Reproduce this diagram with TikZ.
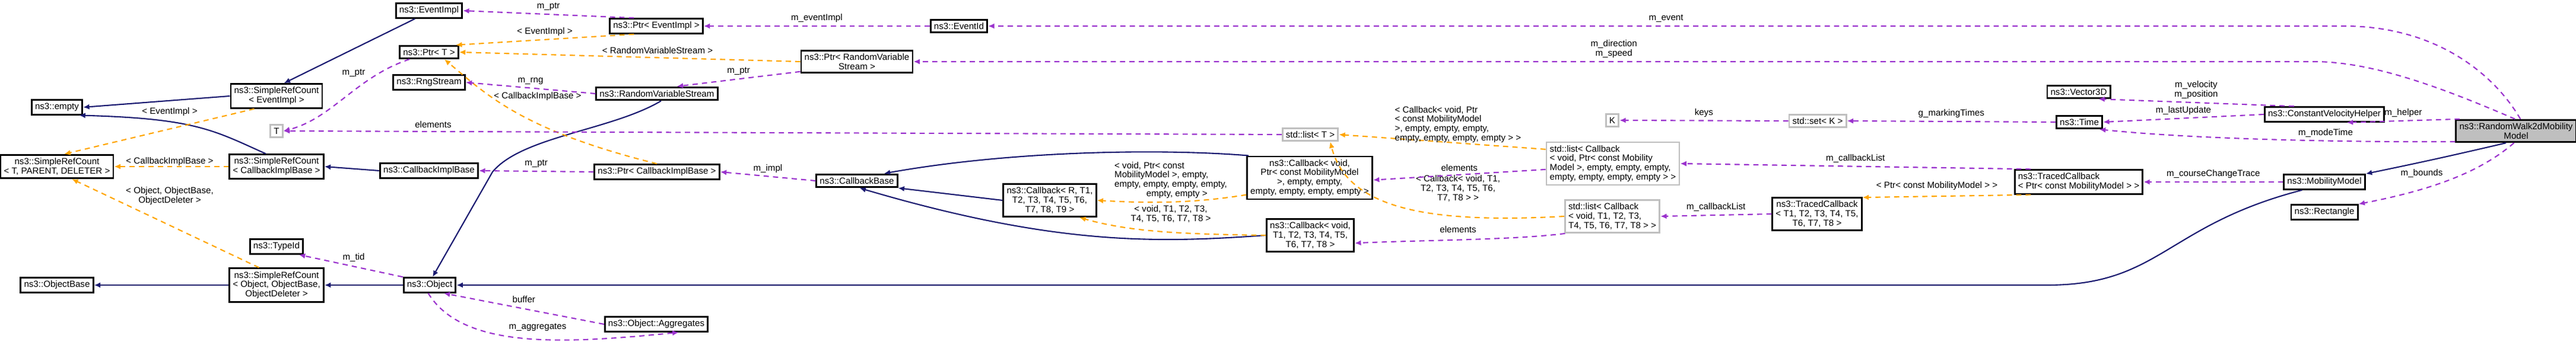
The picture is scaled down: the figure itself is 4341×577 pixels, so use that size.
\documentclass[tikz,border=0pt]{standalone}
\usepackage{fontspec}
\setmainfont{Liberation Sans}
\usetikzlibrary{arrows.meta}
\definecolor{inhblue}{HTML}{191970}
\definecolor{usepurple}{HTML}{9A32CD}
\definecolor{tplorange}{HTML}{FFA500}
\tikzset{
    cls/.style = {draw=black, thick, fill=white, font=\fontsize{4.3}{4.5}\selectfont,
        inner xsep=1.6pt, inner ysep=1.5pt, align=center},
    ext/.style = {cls, draw=black!25},
    hl/.style = {cls, fill=black!25},
    lbl/.style = {font=\fontsize{4.3}{4.5}\selectfont, align=center, inner sep=0.5pt},
    inh/.style = {-{Latex[length=3pt,width=2.6pt]}, draw=inhblue, semithick},
    tpl/.style = {-{Latex[length=3pt,width=2.6pt]}, draw=tplorange, semithick, dash pattern=on 2.5pt off 2pt},
    usg/.style = {-{Latex[length=3pt,width=2.6pt]}, draw=usepurple, semithick, dash pattern=on 2.5pt off 2pt}
}

\begin{document}
\begin{tikzpicture}[x=0.01cm, y=-0.01cm]
    \useasboundingbox (0,0) rectangle (4341,577);

    % column 1
    \node[cls] (empty) at (96,181) {ns3::empty};
    \node[cls] (srcTPD) at (96,281) {ns3::SimpleRefCount\\< T, PARENT, DELETER >};
    \node[cls] (objBase) at (96,481) {ns3::ObjectBase};

    % column 2
    \node[cls] (srcEvt) at (466,162) {ns3::SimpleRefCount\\< EventImpl >};
    \node[ext] (tT) at (466,221) {T};
    \node[cls] (srcCib) at (466,281) {ns3::SimpleRefCount\\< CallbackImplBase >};
    \node[cls] (typeId) at (466,416) {ns3::TypeId};
    \node[cls] (srcObj) at (466,481) {ns3::SimpleRefCount\\< Object, ObjectBase,\\ObjectDeleter >};

    % column 3
    \node[cls] (evtImpl) at (723,18) {ns3::EventImpl};
    \node[cls] (ptrT) at (723,88) {ns3::Ptr< T >};
    \node[cls] (rng) at (723,139) {ns3::RngStream};
    \node[cls] (cib) at (723,288) {ns3::CallbackImplBase};
    \node[cls] (object) at (724,481) {ns3::Object};

    % column 4
    \node[cls] (ptrEvt) at (1106,44) {ns3::Ptr< EventImpl >};
    \node[cls] (rvs) at (1107,158) {ns3::RandomVariableStream};
    \node[cls] (ptrCib) at (1107,290) {ns3::Ptr< CallbackImplBase >};
    \node[cls] (aggr) at (1106,547) {ns3::Object::Aggregates};

    % column 5 and 6
    \node[cls] (eventId) at (1616,44) {ns3::EventId};
    \node[cls] (ptrRvs) at (1444,104) {ns3::Ptr< RandomVariable\\Stream >};
    \node[cls] (cbBase) at (1444,305) {ns3::CallbackBase};
    \node[cls] (cbR) at (1769,338) {ns3::Callback< R, T1,\\T2, T3, T4, T5, T6,\\T7, T8, T9 >};

    % column 7
    \node[ext] (listT) at (2208,227) {std::list< T >};
    \node[cls] (cbPtr) at (2207,300) {ns3::Callback< void,\\Ptr< const MobilityModel\\>, empty, empty,\\empty, empty, empty, empty >};
    \node[cls] (cbVoid) at (2208,397) {ns3::Callback< void,\\T1, T2, T3, T4, T5,\\T6, T7, T8 >};

    % column 8 and 9
    \node[ext] (kK) at (2717,203) {K};
    \node[ext, align=left] (listPtr) at (2718,276) {std::list< Callback\\< void, Ptr< const Mobility\\Model >, empty, empty, empty,\\ empty, empty, empty, empty > >};
    \node[ext, align=left] (listVoid) at (2717,365) {std::list< Callback\\< void, T1, T2, T3,\\ T4, T5, T6, T7, T8 > >};
    \node[ext] (setK) at (3063,204) {std::set< K >};
    \node[cls] (tcT) at (3062,361) {ns3::TracedCallback\\< T1, T2, T3, T4, T5,\\T6, T7, T8 >};

    % column 10 to 12
    \node[cls] (vec) at (3503,155) {ns3::Vector3D};
    \node[cls] (time) at (3504,206) {ns3::Time};
    \node[cls, align=left] (tcPtr) at (3503,307) {ns3::TracedCallback\\< Ptr< const MobilityModel > >};
    \node[cls] (cvh) at (3917,193) {ns3::ConstantVelocityHelper};
    \node[cls] (mob) at (3917,307) {ns3::MobilityModel};
    \node[cls] (rect) at (3917,358) {ns3::Rectangle};
    \node[hl] (rw) at (4240,221) {ns3::RandomWalk2dMobility\\Model};

    % inheritance
    \draw[inh] (evtImpl.-150) -- (srcEvt.60);
    \draw[inh] (srcEvt.west) -- (empty.east);
    \draw[inh] (srcCib.130) .. controls (360,220) and (330,200) .. (empty.-20);
    \draw[inh] (cib.west) -- (srcCib.east);
    \draw[inh] (object.west) -- (srcObj.east);
    \draw[inh] (srcObj.west) -- (objBase.east);
    \draw[inh] (rvs.-60) .. controls (1030,220) and (880,230) .. (830,290) -- (object.70);
    \draw[inh] (mob.200) .. controls (3650,380) and (3640,481) .. (3450,481) -- (object.east);
    \draw[inh] (rw.-130) .. controls (4100,270) and (4050,280) .. (mob.north east);
    \draw[inh] (cbR.west) -- (cbBase.-10);
    \draw[inh] (cbPtr.160) .. controls (1950,250) and (1700,255) .. (cbBase.15);
    \draw[inh] (cbVoid.west) .. controls (1950,410) and (1780,415) .. (cbBase.-70);

    % template instances
    \draw[tpl] (srcEvt.-150) -- (srcTPD.60);
    \draw[tpl] (srcCib.west) -- (srcTPD.east);
    \draw[tpl] (srcObj.135) -- (srcTPD.-40);
    \draw[tpl] (ptrEvt.200) -- node[lbl, above=1pt] {< EventImpl >} (ptrT.15);
    \draw[tpl] (ptrRvs.west) -- (ptrT.east);
    \draw[tpl] (ptrCib.north) .. controls (880,220) and (820,160) .. (ptrT.-25);
    \draw[tpl] (cbPtr.-165) .. controls (2000,345) and (1920,342) .. (cbR.east);
    \draw[tpl] (cbVoid.west) .. controls (1980,395) and (1900,390) .. (cbR.-30);
    \draw[tpl] (listPtr.168) -- (listT.east);
    \draw[tpl] (listVoid.west) .. controls (2400,378) and (2270,350) .. (listT.-20);
    \draw[tpl] (tcPtr.-165) -- (tcT.20);
    \node[lbl] (lEvt) at (286,189) {< EventImpl >};
    \node[lbl] (lCib) at (286,273) {< CallbackImplBase >};
    \node[lbl] (lObj) at (286,331) {< Object, ObjectBase,\\ObjectDeleter >};
    \node[lbl] (lRvs) at (1108,85) {< RandomVariableStream >};
    \node[lbl] (lCibT) at (906,163) {< CallbackImplBase >};
    \node[lbl, align=left] (lCbPtr) at (1973,304) {< void, Ptr< const\\MobilityModel >, empty,\\empty, empty, empty, empty,\\\phantom{MMMMi}empty, empty >};
    \node[lbl] (lCbVoid) at (1973,361) {< void, T1, T2, T3,\\T4, T5, T6, T7, T8 >};
    \node[lbl, align=left] (lListPtr) at (2457,210) {< Callback< void, Ptr\\< const MobilityModel\\>, empty, empty, empty,\\empty, empty, empty, empty > >};
    \node[lbl] (lListVoid) at (2457,318) {< Callback< void, T1,\\T2, T3, T4, T5, T6,\\T7, T8 > >};
    \node[lbl] (lTc) at (3264,314) {< Ptr< const MobilityModel > >};

    % members
    \draw[usg] (ptrEvt.160) -- node[lbl, above=1pt] {m\_ptr} (evtImpl.east);
    \draw[usg] (ptrT.-160) .. controls (600,130) and (560,200) .. (tT.east);
    \node[lbl] (lPtrT) at (596,123) {m\_ptr};
    \draw[usg] (rvs.west) -- node[lbl, above=1pt] {m\_rng} (rng.east);
    \draw[usg] (ptrCib.west) -- node[lbl, above=1pt] {m\_ptr} (cib.east);
    \draw[usg] (object.north west) -- (typeId.-20);
    \node[lbl] (lTid) at (596,435) {m\_tid};
    \draw[usg] (aggr.west) -- node[lbl, above=2pt] {buffer} (object.-30);
    \draw[usg] (object.-100) .. controls (780,590) and (950,580) .. (aggr.-20);
    \node[lbl] (lAggr) at (906,552) {m\_aggregates};
    \draw[usg] (eventId.west) -- node[lbl, above=1pt] {m\_eventImpl} (ptrEvt.east);
    \draw[usg] (ptrRvs.-170) -- node[lbl, above=1pt] {m\_ptr} (rvs.20);
    \draw[usg] (listT.west) -- node[lbl, pos=0.85, above=1pt] {elements} (tT.east);
    \draw[usg] (cbBase.west) -- node[lbl, above=1pt] {m\_impl} (ptrCib.east);
    \draw[usg] (rw.70) .. controls (4200,120) and (4100,44) .. (3950,44) -- node[lbl, pos=0.5, above=1pt] {m\_event} (eventId.east);
    \draw[usg] (rw.95) .. controls (4120,150) and (4000,104) .. (3900,104) -- node[lbl, above=1pt] {m\_direction\\m\_speed} (ptrRvs.east);
    \draw[usg] (listPtr.-175) -- node[lbl, above=1pt] {elements} (cbPtr.-2);
    \draw[usg] (listVoid.-160) .. controls (2550,405) and (2400,405) .. (cbVoid.-10);
    \node[lbl] (lElem) at (2457,387) {elements};
    \draw[usg] (setK.west) -- node[lbl, above=1pt] {keys} (kK.east);
    \draw[usg] (time.west) -- node[lbl, above=1pt] {g\_markingTimes} (setK.east);
    \draw[usg] (tcPtr.165) -- node[lbl, above=1pt] {m\_callbackList} (listPtr.east);
    \draw[usg] (tcT.west) -- node[lbl, above=1pt] {m\_callbackList} (listVoid.east);
    \draw[usg] (cvh.165) -- node[lbl, above=1pt] {m\_velocity\\m\_position} (vec.-20);
    \draw[usg] (cvh.west) -- node[lbl, above=1pt] {m\_lastUpdate} (time.east);
    \draw[usg] (rw.168) -- node[lbl, above=1pt] {m\_helper} (cvh.-20);
    \draw[usg] (rw.-170) .. controls (3950,240) and (3700,235) .. (time.-20);
    \node[lbl] (lMode) at (3919,225) {m\_modeTime};
    \draw[usg] (mob.west) -- node[lbl, above=1pt] {m\_courseChangeTrace} (tcPtr.east);
    \draw[usg] (rw.-100) .. controls (4180,290) and (4100,320) .. (rect.north east);
    \node[lbl] (lBounds) at (4081,293) {m\_bounds};
\end{tikzpicture}
\end{document}
